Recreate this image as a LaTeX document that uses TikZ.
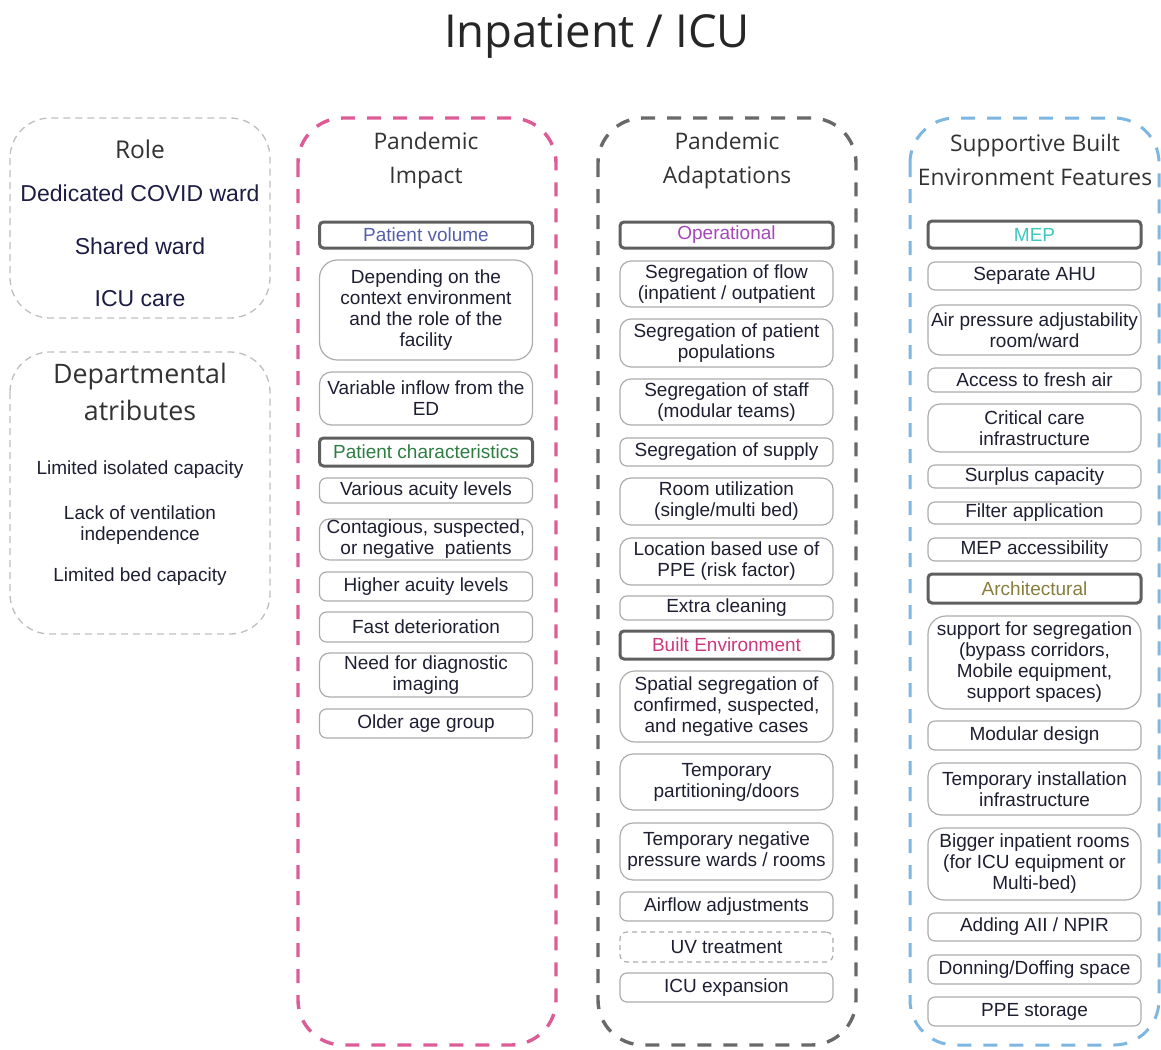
\documentclass[tikz,border=0pt]{standalone}
\usepackage{fontspec}
\setmainfont{Liberation Sans}
\newfontfamily\headfont{Open Sans}

\definecolor{grppink}{RGB}{222,92,150}
\definecolor{grpgray}{RGB}{105,105,105}
\definecolor{grpblue}{RGB}{125,182,225}
\definecolor{lightdash}{RGB}{190,190,190}
\definecolor{itemedge}{RGB}{172,172,172}
\definecolor{hdredge}{RGB}{95,95,95}
\definecolor{itemtext}{RGB}{30,30,50}
\definecolor{headtext}{RGB}{50,50,50}
\definecolor{roletext}{RGB}{28,28,68}
\definecolor{cvolume}{RGB}{85,95,170}
\definecolor{cchar}{RGB}{45,125,65}
\definecolor{coper}{RGB}{165,70,185}
\definecolor{cbuilt}{RGB}{205,55,125}
\definecolor{cmep}{RGB}{60,200,190}
\definecolor{carch}{RGB}{135,125,60}

\tikzset{
  grp/.style={line width=3.4pt, dash pattern=on 14pt off 12pt, rounded corners=45pt},
  sidegrp/.style={draw=lightdash, line width=1.3pt, dash pattern=on 7pt off 5pt, rounded corners=40pt},
  item/.style={draw=itemedge, line width=1.2pt, rounded corners=7pt, minimum width=213pt,
    inner sep=1pt, align=center, text=itemtext, font=\fontsize{19}{21}\selectfont},
  hdrbox/.style={draw=hdredge, line width=3pt, rounded corners=4pt, minimum width=213pt,
    inner sep=1pt, align=center, font=\fontsize{19}{21}\selectfont},
  dashitem/.style={item, dash pattern=on 5pt off 4pt},
  colhead/.style={align=center, text=headtext, font=\headfont\fontsize{22.8}{34}\selectfont},
}

% one box of a column: [extra options]{style}{name}{top}{bottom}{text}
\newcommand\cell[6][]{\node[#2,minimum height={#5pt-#4pt},#1] (#3) at (\colx,{(#4+#5)/2}) {#6};}

\begin{document}
\begin{tikzpicture}[x=1pt,y=-1pt]
\useasboundingbox (0,0) rectangle (1161,1049);

% title
\node[text=black!85, font=\headfont\fontsize{45.5}{50}\selectfont] (title) at (597,36) {Inpatient / ICU};

% left side groups
\draw[sidegrp] (10,118) rectangle (270,318);
\draw[sidegrp] (10,352) rectangle (270,634);

\node[text=headtext, font=\headfont\fontsize{24.5}{28}\selectfont] (role) at (140,149) {Role};
\node[text=roletext, font=\fontsize{23}{26}\selectfont] (r1) at (140,193) {Dedicated COVID ward};
\node[text=roletext, font=\fontsize{23}{26}\selectfont] (r2) at (140,246) {Shared ward};
\node[text=roletext, font=\fontsize{23}{26}\selectfont] (r3) at (140,299) {ICU care};

\node[align=center, text=headtext, font=\headfont\fontsize{26.8}{37}\selectfont] (dept) at (140,392) {Departmental\\atributes};
\node[text=itemtext, font=\fontsize{19}{21}\selectfont] (d1) at (140,470) {Limited isolated capacity};
\node[align=center, text=itemtext, font=\fontsize{19}{21}\selectfont] (d2) at (140,525) {Lack of ventilation\\independence};
\node[text=itemtext, font=\fontsize{19}{21}\selectfont] (d3) at (140,577) {Limited bed capacity};

% column frames
\draw[grp, draw=grppink] (298,118) rectangle (556,1045);
\draw[grp, draw=grpgray] (598,118) rectangle (856,1045);
\draw[grp, draw=grpblue, line width=3pt] (910,118) rectangle (1159,1045);

% Pandemic Impact
\node[colhead] (impact) at (426,161) {Pandemic\\Impact};
\def\colx{426}
\cell[text=cvolume]{hdrbox}{pv}{222}{248}{Patient volume}
\cell[rounded corners=18pt]{item}{pv1}{260}{360}{Depending on the\\context environment\\and the role of the\\facility}
\cell[rounded corners=12pt]{item}{pv2}{372}{425}{Variable inflow from the\\ED}
\cell[text=cchar]{hdrbox}{pc}{438}{466}{Patient characteristics}
\cell{item}{pc1}{478}{503}{Various acuity levels}
\cell[rounded corners=10pt]{item}{pc2}{519}{560}{Contagious, suspected,\\or negative\ \ patients}
\cell{item}{pc3}{572}{601}{Higher acuity levels}
\cell{item}{pc4}{612}{642}{Fast deterioration}
\cell[rounded corners=10pt]{item}{pc5}{653}{697}{Need for diagnostic\\imaging}
\cell{item}{pc6}{709}{738}{Older age group}

% Pandemic Adaptations
\node[colhead] (adapt) at (727,161) {Pandemic\\Adaptations};
\def\colx{726.5}
\cell[text=coper]{hdrbox}{op}{222}{248}{Operational}
\cell[rounded corners=11pt]{item}{op1}{261}{307}{Segregation of flow\\(inpatient / outpatient}
\cell[rounded corners=11pt]{item}{op2}{319}{367}{Segregation of patient\\populations}
\cell[rounded corners=11pt]{item}{op3}{379}{425}{Segregation of staff\\(modular teams)}
\cell{item}{op4}{438}{466}{Segregation of supply}
\cell[rounded corners=11pt]{item}{op5}{478}{525}{Room utilization\\(single/multi bed)}
\cell[rounded corners=11pt]{item}{op6}{538}{585}{Location based use of\\PPE (risk factor)}
\cell{item}{op7}{596}{620}{Extra cleaning}
\cell[text=cbuilt]{hdrbox}{be}{631}{659}{Built Environment}
\cell[rounded corners=15pt]{item}{be1}{671}{742}{Spatial segregation of\\confirmed, suspected,\\and negative cases}
\cell[rounded corners=13pt]{item}{be2}{754}{810}{Temporary\\partitioning/doors}
\cell[rounded corners=13pt]{item}{be3}{823}{880}{Temporary negative\\pressure wards / rooms}
\cell{item}{be4}{892}{921}{Airflow adjustments}
\cell{dashitem}{be5}{932}{962}{UV treatment}
\cell{item}{be6}{973}{1002}{ICU expansion}

% Supportive Built Environment Features
\node[colhead] (support) at (1035,160) {Supportive Built\\Environment Features};
\def\colx{1034.5}
\cell[text=cmep]{hdrbox}{mep}{221}{248}{MEP}
\cell{item}{mep1}{262}{290}{Separate AHU}
\cell[rounded corners=12pt]{item}{mep2}{305}{355}{Air pressure adjustability\\room/ward}
\cell{item}{mep3}{368}{392}{Access to fresh air}
\cell[rounded corners=12pt]{item}{mep4}{404}{452}{Critical care\\infrastructure}
\cell{item}{mep5}{465}{488}{Surplus capacity}
\cell{item}{mep6}{502}{524}{Filter application}
\cell{item}{mep7}{538}{561}{MEP accessibility}
\cell[text=carch]{hdrbox}{ar}{574}{603}{Architectural}
\cell[rounded corners=18pt]{item}{ar1}{616}{709}{support for segregation\\(bypass corridors,\\Mobile equipment,\\support spaces)}
\cell{item}{ar2}{721}{750}{Modular design}
\cell[rounded corners=13pt]{item}{ar3}{763}{815}{Temporary installation\\infrastructure}
\cell[rounded corners=16pt]{item}{ar4}{828}{900}{Bigger inpatient rooms\\(for ICU equipment or\\Multi-bed)}
\cell{item}{ar5}{913}{941}{Adding AII / NPIR}
\cell{item}{ar6}{955}{984}{Donning/Doffing space}
\cell{item}{ar7}{997}{1026}{PPE storage}

\end{tikzpicture}
\end{document}
